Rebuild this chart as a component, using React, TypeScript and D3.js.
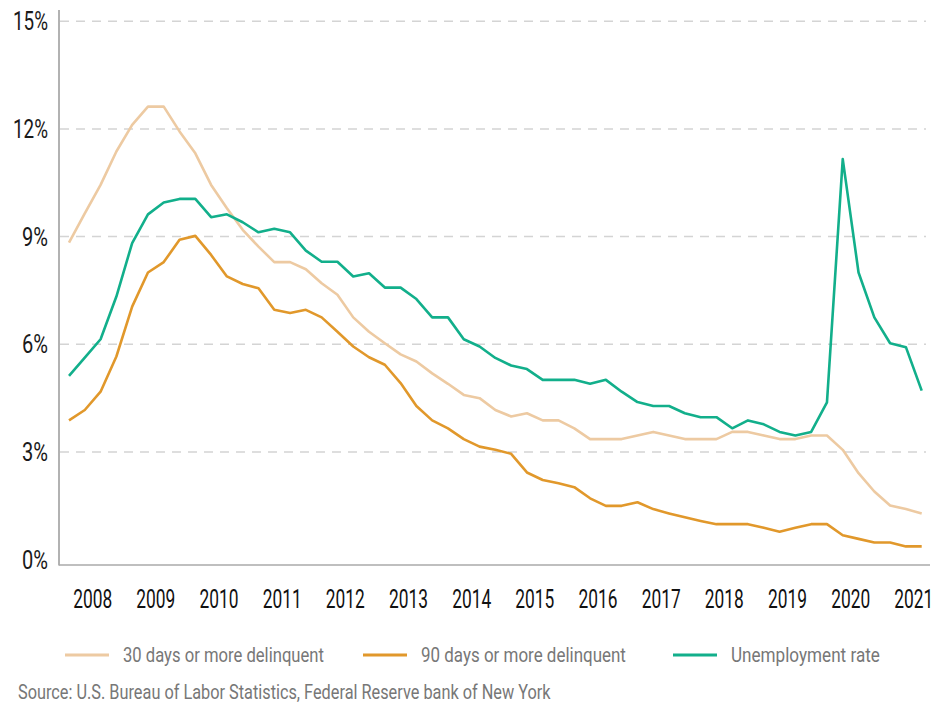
import * as d3 from "d3";
import React, { useLayoutEffect, useRef } from "react";

// quarterly, 2008 Q1 .. 2021 Q3
const delinq30 = [
  8.83, 9.65, 10.44, 11.37, 12.11, 12.62, 12.62, 11.93, 11.32, 10.44, 9.79, 9.19, 8.72, 8.29,
  8.29, 8.09, 7.7, 7.38, 6.75, 6.35, 6.03, 5.72, 5.52, 5.19, 4.9, 4.59, 4.5, 4.17,
  3.99, 4.08, 3.88, 3.88, 3.66, 3.36, 3.36, 3.36, 3.46, 3.56, 3.46, 3.36, 3.36, 3.36,
  3.56, 3.56, 3.46, 3.36, 3.36, 3.46, 3.46, 3.06, 2.41, 1.9, 1.51, 1.41, 1.29,
];
const delinq90 = [
  3.88, 4.17, 4.68, 5.66, 7.05, 8.0, 8.29, 8.91, 9.02, 8.49, 7.89, 7.68, 7.56, 6.96,
  6.87, 6.96, 6.75, 6.35, 5.94, 5.64, 5.43, 4.92, 4.28, 3.88, 3.66, 3.36, 3.15, 3.06,
  2.95, 2.43, 2.22, 2.13, 2.02, 1.71, 1.5, 1.5, 1.6, 1.41, 1.29, 1.18, 1.08, 0.99,
  0.99, 0.99, 0.89, 0.78, 0.89, 0.99, 0.99, 0.68, 0.58, 0.48, 0.48, 0.37, 0.37,
];
const unemployment = [
  5.12, 5.63, 6.14, 7.33, 8.82, 9.62, 9.95, 10.05, 10.05, 9.54, 9.62, 9.4, 9.12, 9.22,
  9.12, 8.61, 8.3, 8.3, 7.89, 7.98, 7.58, 7.58, 7.26, 6.75, 6.75, 6.14, 5.94, 5.62,
  5.41, 5.31, 5.01, 5.01, 5.01, 4.9, 5.01, 4.68, 4.39, 4.28, 4.28, 4.08, 3.97, 3.97,
  3.66, 3.88, 3.77, 3.56, 3.46, 3.56, 4.38, 11.16, 8.0, 6.75, 6.03, 5.92, 4.71,
];
const years = [2008, 2009, 2010, 2011, 2012, 2013, 2014, 2015, 2016, 2017, 2018, 2019, 2020, 2021];
const yTicks = [0, 3, 6, 9, 12, 15];

const series = [
  { name: "30 days or more delinquent", values: delinq30, color: "#EDCAA2" },
  { name: "90 days or more delinquent", values: delinq90, color: "#E1982B" },
  { name: "Unemployment rate", values: unemployment, color: "#12AF8B" },
];

const FONT = "Roboto, 'Noto Sans', sans-serif";

// the reference uses a condensed face: squeeze each text horizontally to its width
function NarrowText(props: {
  x: number;
  y: number;
  w: number;
  anchor?: "start" | "middle" | "end";
  size: number;
  fill: string;
  children: React.ReactNode;
}) {
  const ref = useRef<SVGTextElement | null>(null);
  useLayoutEffect(() => {
    if (!ref.current) return;
    const natural = ref.current.getComputedTextLength();
    const s = natural > 0 ? props.w / natural : 1;
    ref.current.setAttribute("transform", `translate(${props.x},${props.y}) scale(${s},1)`);
  });
  return (
    <text
      ref={ref}
      transform={`translate(${props.x},${props.y})`}
      textAnchor={props.anchor ?? "start"}
      fontSize={props.size}
      fill={props.fill}
    >
      {props.children}
    </text>
  );
}

export default function App() {
  const width = 944;
  const height = 705;

  const x = d3.scaleLinear().domain([0, delinq30.length - 1]).range([69, 921.7]);
  const y = d3.scaleLinear().domain([0, 15]).range([559.7, 21.2]);

  const line = d3
    .line<number>()
    .x((_, i) => x(i))
    .y((d) => y(d));

  // legend slots
  const legendX = [65, 363, 673];
  const legendW = [201, 205, 149];

  return (
    <svg
      width={width}
      height={height}
      style={{ position: "absolute", left: 0, top: 0, background: "#fff" }}
      fontFamily={FONT}
    >
      {/* gridlines */}
      {yTicks
        .filter((t) => t > 0)
        .map((t) => (
          <line
            key={t}
            x1={60}
            x2={926}
            y1={y(t)}
            y2={y(t)}
            stroke="#d4d4d4"
            strokeWidth={1.5}
            strokeDasharray="9,7"
          />
        ))}

      {/* axes */}
      <line x1={59} x2={59} y1={10} y2={565.5} stroke="#999" strokeWidth={1.5} />
      <line x1={59} x2={930} y1={565} y2={565} stroke="#aaa" strokeWidth={1.5} />

      {yTicks.map((t) => (
        <NarrowText
          key={t}
          x={48}
          y={y(t) + 9}
          w={t >= 10 ? 35 : 26}
          anchor="end"
          size={25}
          fill="#1a1a1a"
        >
          {t}%
        </NarrowText>
      ))}

      {years.map((yr, k) => (
        <NarrowText key={yr} x={x(k * 4 + 1.5)} y={608} w={39} anchor="middle" size={25} fill="#111">
          {yr}
        </NarrowText>
      ))}

      {series.map((s) => (
        <path
          key={s.name}
          d={line(s.values) ?? ""}
          fill="none"
          stroke={s.color}
          strokeWidth={2.6}
          strokeLinejoin="round"
        />
      ))}

      {/* legend */}
      {series.map((s, i) => (
        <g key={s.name}>
          <line
            x1={legendX[i]}
            x2={legendX[i] + 44}
            y1={655}
            y2={655}
            stroke={s.color}
            strokeWidth={3}
          />
          <NarrowText x={legendX[i] + 58} y={662} w={legendW[i]} size={21} fill="#777">
            {s.name}
          </NarrowText>
        </g>
      ))}

      <NarrowText x={18} y={699} w={533} size={20} fill="#777">
        Source: U.S. Bureau of Labor Statistics, Federal Reserve bank of New York
      </NarrowText>
    </svg>
  );
}
